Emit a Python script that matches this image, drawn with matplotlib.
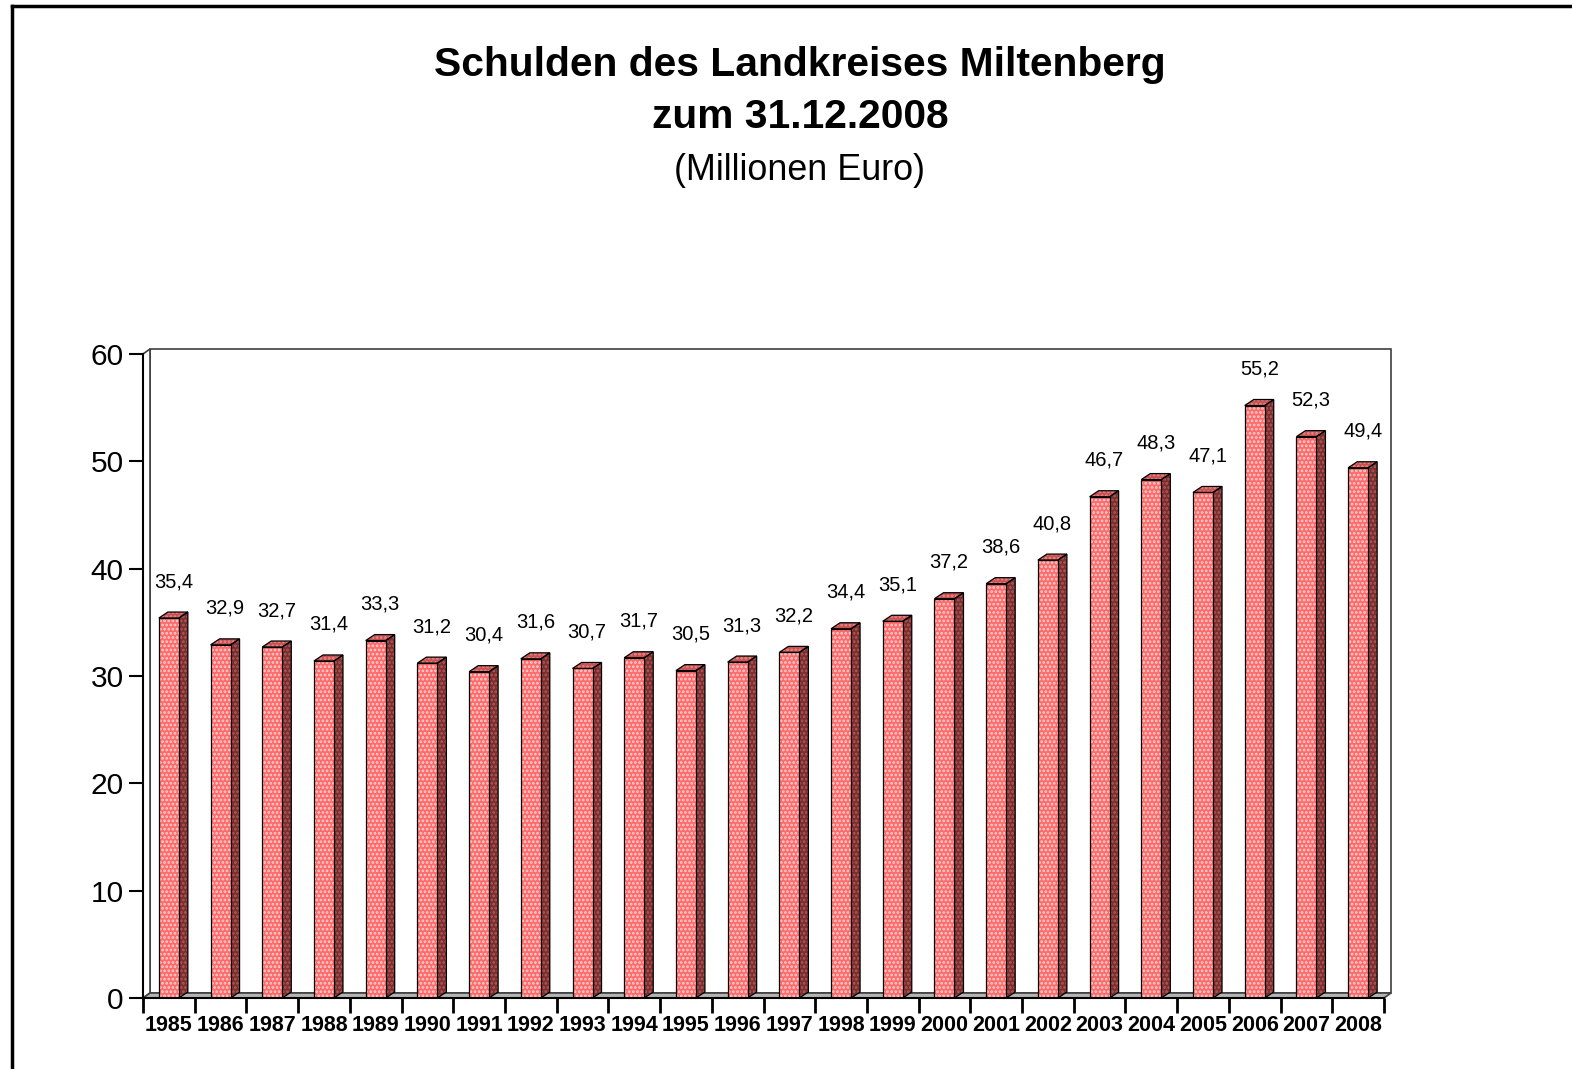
import matplotlib
matplotlib.use("Agg")
import matplotlib.pyplot as plt
from matplotlib.patches import Polygon
from matplotlib.lines import Line2D

years = list(range(1985, 2009))
debt = [35.4, 32.9, 32.7, 31.4, 33.3, 31.2, 30.4, 31.6, 30.7, 31.7, 30.5, 31.3,
        32.2, 34.4, 35.1, 37.2, 38.6, 40.8, 46.7, 48.3, 47.1, 55.2, 52.3, 49.4]
value_labels = [("%.1f" % v).replace(".", ",") for v in debt]
year_labels = [str(y) for y in years]

W, H = 1572, 1069
fig = plt.figure(figsize=(W / 100, H / 100), dpi=100)
fig.patch.set_facecolor("white")

# axes placed in pixel terms of the reference
x0, x1, y0, y1 = 143, 1384, 998, 354
ax = fig.add_axes([x0 / W, 1 - y0 / H, (x1 - x0) / W, (y0 - y1) / H])
n = len(debt)
ax.set_xlim(0, n)
ax.set_ylim(0, 60)
ppx = (x1 - x0) / n
ppy = (y0 - y1) / 60.0

# wall depth and bar depth, in data units
wdx, wdy = 7 / ppx, 5 / ppy
bdx, bdy = 9 / ppx, 6 / ppy

# back wall, side wall, floor
ax.add_patch(Polygon([(wdx, wdy), (n + wdx, wdy), (n + wdx, 60 + wdy), (wdx, 60 + wdy)],
                     closed=True, facecolor="white", edgecolor="#404040", lw=1.2,
                     clip_on=False, zorder=0))
ax.add_patch(Polygon([(0, 0), (wdx, wdy), (wdx, 60 + wdy), (0, 60)],
                     closed=True, facecolor="white", edgecolor="#404040", lw=1.2,
                     clip_on=False, zorder=0.5))
ax.add_patch(Polygon([(0, 0), (n, 0), (n + wdx, wdy), (wdx, wdy)],
                     closed=True, facecolor="#b4b4b4", edgecolor="#404040", lw=1.2,
                     clip_on=False, zorder=0.5))

plt.rcParams["hatch.linewidth"] = 1.3
bw = 20 / ppx
for i, v in enumerate(debt):
    c = i + 0.5
    left, right = c - bw / 2, c + bw / 2
    side = [(right, 0), (right + bdx, bdy), (right + bdx, v + bdy), (right, v)]
    top = [(left, v), (right, v), (right + bdx, v + bdy), (left + bdx, v + bdy)]
    ax.add_patch(Polygon(side, closed=True, facecolor="#7c2e2e", edgecolor="#b05a5a",
                         hatch="....", lw=0, clip_on=False, zorder=2))
    ax.add_patch(Polygon(side, closed=True, fill=False, edgecolor="black", lw=0.9,
                         clip_on=False, zorder=2.1))
    ax.add_patch(Polygon(top, closed=True, facecolor="#c85252", edgecolor="#e88a8a",
                         hatch="....", lw=0, clip_on=False, zorder=2))
    ax.add_patch(Polygon(top, closed=True, fill=False, edgecolor="black", lw=0.9,
                         clip_on=False, zorder=2.1))
    ax.bar(c, v, width=bw, color="#ff6a6a", hatch="....", edgecolor="#ffd2d2",
           linewidth=0, zorder=3)
    ax.bar(c, v, width=bw, fill=False, edgecolor="black", linewidth=0.9, zorder=3.1)
    ax.text(c + bdx / 2, v + 3.4, value_labels[i], ha="center", va="center",
            fontsize=14.5, family="Liberation Sans", zorder=4)

for s in ["top", "right"]:
    ax.spines[s].set_visible(False)
ax.spines["left"].set_linewidth(1.5)
ax.spines["bottom"].set_linewidth(1.5)
ax.spines["left"].set_zorder(5)
ax.spines["bottom"].set_zorder(5)
ax.patch.set_visible(False)

ax.set_yticks(range(0, 61, 10))
ax.set_yticklabels([str(t) for t in range(0, 61, 10)], fontsize=21.5, family="Liberation Sans")
ax.set_xticks(range(0, n + 1))
ax.set_xticklabels([])
ax.set_xticks([i + 0.5 for i in range(n)], minor=True)
ax.set_xticklabels(year_labels, minor=True, fontsize=15.5, fontweight="bold",
                   family=["Liberation Sans Narrow", "Liberation Sans"])
ax.tick_params(axis="y", which="major", length=10, width=1.5, direction="out", pad=4)
ax.tick_params(axis="x", which="major", length=11, width=2, direction="out")
ax.tick_params(axis="x", which="minor", length=0, pad=12)

fig.text(800 / W, 1 - 65 / H, "Schulden des Landkreises Miltenberg", ha="center", va="center",
         fontsize=29.3, fontweight="bold", family="Liberation Sans")
fig.text(800 / W, 1 - 117 / H, "zum 31.12.2008", ha="center", va="center",
         fontsize=29.3, fontweight="bold", family="Liberation Sans")
fig.text(800 / W, 1 - 170 / H, "(Millionen Euro)", ha="center", va="center",
         fontsize=25.8, family="Liberation Sans")

# frame of the sheet (top and left)
fig.add_artist(Line2D([12 / W, 1], [1 - 6 / H, 1 - 6 / H], color="black", lw=2.5,
                      transform=fig.transFigure))
fig.add_artist(Line2D([12 / W, 12 / W], [1 - 6 / H, 0], color="black", lw=2.5,
                      transform=fig.transFigure))

fig.savefig("out.png", dpi=100)
